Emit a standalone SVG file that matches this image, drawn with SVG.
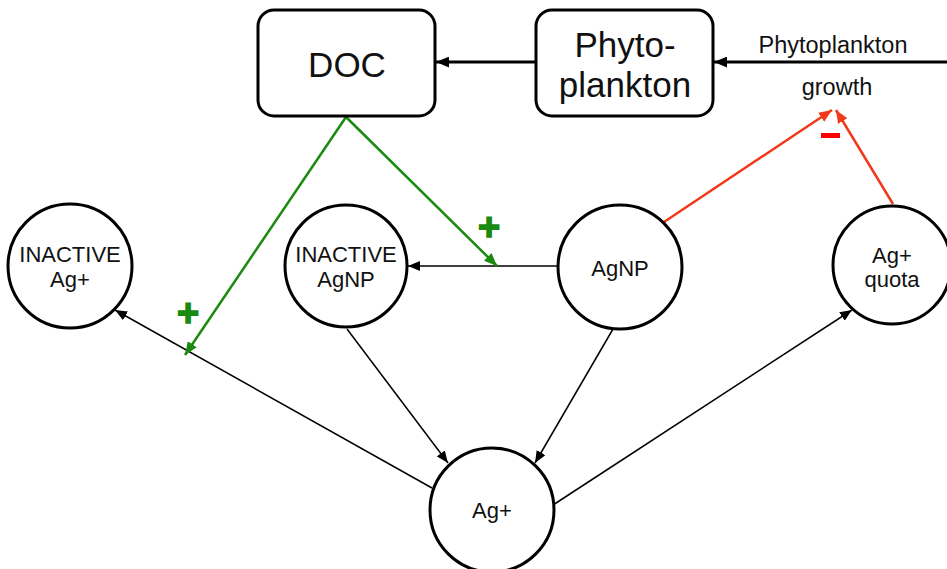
<svg xmlns="http://www.w3.org/2000/svg" width="947" height="569" viewBox="0 0 947 569">
<defs>
<style>
text{font-family:"Liberation Sans",Arial,sans-serif;fill:#111;text-anchor:middle}
.box{fill:#fff;stroke:#000;stroke-width:3}
.node{fill:#fff;stroke:#000;stroke-width:3}
.thin{stroke:#000;stroke-width:1.5;fill:none}
.thick{stroke:#000;stroke-width:3;fill:none}
.green{stroke:#1a8a10;stroke-width:2.5;fill:none}
.red{stroke:#f03a1a;stroke-width:2.5;fill:none}
.lbl{font-size:22px}
.sign{font-family:"Liberation Sans",Arial,sans-serif;font-weight:bold;fill:#1a8a10;stroke:#1a8a10;stroke-width:1.5}
</style>
<marker id="ab" viewBox="0 0 12 10" refX="12" refY="5" markerWidth="12" markerHeight="10" markerUnits="userSpaceOnUse" orient="auto"><path d="M0,0 L12,5 L0,10 Z" fill="#000"/></marker>
<marker id="abk" viewBox="0 0 12 10" refX="12" refY="5" markerWidth="13" markerHeight="11" markerUnits="userSpaceOnUse" orient="auto"><path d="M0,0 L12,5 L0,10 Z" fill="#000"/></marker>
<marker id="ag" viewBox="0 0 12 10" refX="12" refY="5" markerWidth="13" markerHeight="11" markerUnits="userSpaceOnUse" orient="auto"><path d="M0,0 L12,5 L0,10 Z" fill="#1a8a10"/></marker>
<marker id="ar" viewBox="0 0 12 10" refX="12" refY="5" markerWidth="13" markerHeight="11" markerUnits="userSpaceOnUse" orient="auto"><path d="M0,0 L12,5 L0,10 Z" fill="#f03a1a"/></marker>
</defs>
<rect width="947" height="569" fill="#fff"/>
<g id="connectors">
<line class="thick" x1="536" y1="62" x2="436" y2="62" marker-end="url(#abk)"/>
<line class="thick" x1="947" y1="62" x2="714" y2="62" marker-end="url(#abk)"/>
<line class="thin" x1="558" y1="266" x2="408" y2="266" marker-end="url(#ab)"/>
<line class="thin" x1="432" y1="488" x2="115" y2="310" marker-end="url(#ab)"/>
<line class="thin" x1="553" y1="505" x2="852" y2="310" marker-end="url(#ab)"/>
<line class="thin" x1="347" y1="329" x2="448" y2="463" marker-end="url(#ab)"/>
<line class="thin" x1="613" y1="329" x2="535" y2="463" marker-end="url(#ab)"/>
<line class="green" x1="346" y1="117" x2="185" y2="355" marker-end="url(#ag)"/>
<line class="green" x1="346" y1="117" x2="497" y2="266" marker-end="url(#ag)"/>
<line class="red" x1="664" y1="222" x2="832" y2="110" marker-end="url(#ar)"/>
<line class="red" x1="893" y1="204" x2="836" y2="110" marker-end="url(#ar)"/>
<text class="sign" x="188" y="326" font-size="38">+</text>
<text class="sign" x="489" y="240" font-size="38">+</text>
<rect x="821" y="133" width="19" height="5" fill="#f00"/>
<text x="833" y="53" font-size="23.5">Phytoplankton</text>
<text x="837" y="95" font-size="23.5">growth</text>
</g>
<g id="doc">
<rect class="box" x="258" y="10" width="177" height="106" rx="16"/>
<text x="347" y="77" font-size="35">DOC</text>
</g>
<g id="phytoplankton">
<rect class="box" x="536" y="10" width="177" height="106" rx="16"/>
<text x="625" y="57" font-size="35">Phyto-</text>
<text x="625" y="97" font-size="35">plankton</text>
</g>
<g id="inactive-ag">
<circle class="node" cx="70" cy="266" r="62"/>
<text class="lbl" x="70" y="262">INACTIVE</text>
<text class="lbl" x="70" y="287">Ag+</text>
</g>
<g id="inactive-agnp">
<circle class="node" cx="346" cy="266" r="61"/>
<text class="lbl" x="346" y="262">INACTIVE</text>
<text class="lbl" x="346" y="287">AgNP</text>
</g>
<g id="agnp">
<circle class="node" cx="620" cy="267" r="62"/>
<text class="lbl" x="620" y="276">AgNP</text>
</g>
<g id="ag-quota">
<circle class="node" cx="892" cy="265" r="59"/>
<text class="lbl" x="892" y="263">Ag+</text>
<text class="lbl" x="892" y="287">quota</text>
</g>
<g id="ag">
<circle class="node" cx="492" cy="510" r="62"/>
<text class="lbl" x="492" y="518">Ag+</text>
</g>
</svg>
